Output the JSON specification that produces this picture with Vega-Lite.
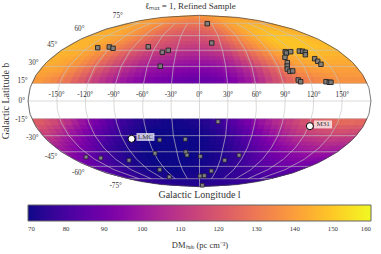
{"$schema":"https://vega.github.io/schema/vega-lite/v6.json","width":381,"height":244,"padding":{"top":10,"left":0,"right":0,"bottom":0},"autosize":"none","background":"white","view":{"stroke":null},
"title":{"text":"ℓₘₐₓ = 1, Refined Sample","font":"Liberation Serif","fontSize":9,"fontWeight":"normal","color":"#333","anchor":"middle","offset":-1},
"projection":{"type":"mollweide","scale":60.63,"translate":[199.5,91]},
"config":{"text":{"font":"Liberation Serif","color":"#333"}},
"datasets":{"cells":[
{"l":-180,"b":15,"v":139},{"l":-165,"b":15,"v":135},{"l":-150,"b":15,"v":129},{"l":-135,"b":15,"v":121},{"l":-120,"b":15,"v":113},{"l":-105,"b":15,"v":106},{"l":-90,"b":15,"v":100},{"l":-75,"b":15,"v":96},{"l":-60,"b":15,"v":93},{"l":-45,"b":15,"v":91},{"l":-30,"b":15,"v":89},{"l":-15,"b":15,"v":88},{"l":0,"b":15,"v":88},{"l":15,"b":15,"v":90},{"l":30,"b":15,"v":94},{"l":45,"b":15,"v":100},{"l":60,"b":15,"v":108},{"l":75,"b":15,"v":117},{"l":90,"b":15,"v":125},{"l":105,"b":15,"v":131},{"l":120,"b":15,"v":134},{"l":135,"b":15,"v":136},{"l":150,"b":15,"v":137},{"l":165,"b":15,"v":137},
{"l":-180,"b":22.5,"v":142},{"l":-165,"b":22.5,"v":140},{"l":-150,"b":22.5,"v":134},{"l":-135,"b":22.5,"v":127},{"l":-120,"b":22.5,"v":119},{"l":-105,"b":22.5,"v":112},{"l":-90,"b":22.5,"v":106},{"l":-75,"b":22.5,"v":101},{"l":-60,"b":22.5,"v":98},{"l":-45,"b":22.5,"v":96},{"l":-30,"b":22.5,"v":94},{"l":-15,"b":22.5,"v":93},{"l":0,"b":22.5,"v":93},{"l":15,"b":22.5,"v":95},{"l":30,"b":22.5,"v":99},{"l":45,"b":22.5,"v":105},{"l":60,"b":22.5,"v":113},{"l":75,"b":22.5,"v":122},{"l":90,"b":22.5,"v":130},{"l":105,"b":22.5,"v":136},{"l":120,"b":22.5,"v":139},{"l":135,"b":22.5,"v":140},{"l":150,"b":22.5,"v":140},{"l":165,"b":22.5,"v":140},
{"l":-180,"b":30,"v":144},{"l":-165,"b":30,"v":142},{"l":-150,"b":30,"v":138},{"l":-135,"b":30,"v":132},{"l":-120,"b":30,"v":125},{"l":-105,"b":30,"v":118},{"l":-90,"b":30,"v":112},{"l":-75,"b":30,"v":107},{"l":-60,"b":30,"v":104},{"l":-45,"b":30,"v":102},{"l":-30,"b":30,"v":100},{"l":-15,"b":30,"v":99},{"l":0,"b":30,"v":99},{"l":15,"b":30,"v":101},{"l":30,"b":30,"v":105},{"l":45,"b":30,"v":112},{"l":60,"b":30,"v":120},{"l":75,"b":30,"v":128},{"l":90,"b":30,"v":135},{"l":105,"b":30,"v":141},{"l":120,"b":30,"v":143},{"l":135,"b":30,"v":144},{"l":150,"b":30,"v":143},{"l":165,"b":30,"v":143},
{"l":-180,"b":37.5,"v":145},{"l":-165,"b":37.5,"v":144},{"l":-150,"b":37.5,"v":141},{"l":-135,"b":37.5,"v":136},{"l":-120,"b":37.5,"v":130},{"l":-105,"b":37.5,"v":124},{"l":-90,"b":37.5,"v":118},{"l":-75,"b":37.5,"v":113},{"l":-60,"b":37.5,"v":110},{"l":-45,"b":37.5,"v":108},{"l":-30,"b":37.5,"v":106},{"l":-15,"b":37.5,"v":105},{"l":0,"b":37.5,"v":106},{"l":15,"b":37.5,"v":108},{"l":30,"b":37.5,"v":112},{"l":45,"b":37.5,"v":119},{"l":60,"b":37.5,"v":127},{"l":75,"b":37.5,"v":134},{"l":90,"b":37.5,"v":140},{"l":105,"b":37.5,"v":145},{"l":120,"b":37.5,"v":147},{"l":135,"b":37.5,"v":147},{"l":150,"b":37.5,"v":146},{"l":165,"b":37.5,"v":145},
{"l":-180,"b":45,"v":146},{"l":-165,"b":45,"v":145},{"l":-150,"b":45,"v":143},{"l":-135,"b":45,"v":139},{"l":-120,"b":45,"v":134},{"l":-105,"b":45,"v":129},{"l":-90,"b":45,"v":124},{"l":-75,"b":45,"v":120},{"l":-60,"b":45,"v":117},{"l":-45,"b":45,"v":115},{"l":-30,"b":45,"v":113},{"l":-15,"b":45,"v":112},{"l":0,"b":45,"v":113},{"l":15,"b":45,"v":115},{"l":30,"b":45,"v":119},{"l":45,"b":45,"v":126},{"l":60,"b":45,"v":133},{"l":75,"b":45,"v":139},{"l":90,"b":45,"v":144},{"l":105,"b":45,"v":148},{"l":120,"b":45,"v":149},{"l":135,"b":45,"v":149},{"l":150,"b":45,"v":148},{"l":165,"b":45,"v":147},
{"l":-180,"b":52.5,"v":145},{"l":-165,"b":52.5,"v":145},{"l":-150,"b":52.5,"v":143},{"l":-135,"b":52.5,"v":141},{"l":-120,"b":52.5,"v":137},{"l":-105,"b":52.5,"v":133},{"l":-90,"b":52.5,"v":128},{"l":-75,"b":52.5,"v":124},{"l":-60,"b":52.5,"v":121},{"l":-45,"b":52.5,"v":119},{"l":-30,"b":52.5,"v":118},{"l":-15,"b":52.5,"v":117},{"l":0,"b":52.5,"v":118},{"l":15,"b":52.5,"v":121},{"l":30,"b":52.5,"v":125},{"l":45,"b":52.5,"v":131},{"l":60,"b":52.5,"v":137},{"l":75,"b":52.5,"v":142},{"l":90,"b":52.5,"v":146},{"l":105,"b":52.5,"v":149},{"l":120,"b":52.5,"v":149},{"l":135,"b":52.5,"v":149},{"l":150,"b":52.5,"v":148},{"l":165,"b":52.5,"v":146},
{"l":-180,"b":60,"v":144},{"l":-165,"b":60,"v":144},{"l":-150,"b":60,"v":143},{"l":-135,"b":60,"v":141},{"l":-120,"b":60,"v":138},{"l":-105,"b":60,"v":135},{"l":-90,"b":60,"v":131},{"l":-75,"b":60,"v":128},{"l":-60,"b":60,"v":125},{"l":-45,"b":60,"v":123},{"l":-30,"b":60,"v":122},{"l":-15,"b":60,"v":122},{"l":0,"b":60,"v":123},{"l":15,"b":60,"v":125},{"l":30,"b":60,"v":129},{"l":45,"b":60,"v":134},{"l":60,"b":60,"v":139},{"l":75,"b":60,"v":143},{"l":90,"b":60,"v":146},{"l":105,"b":60,"v":147},{"l":120,"b":60,"v":148},{"l":135,"b":60,"v":147},{"l":150,"b":60,"v":146},{"l":165,"b":60,"v":145},
{"l":-180,"b":67.5,"v":143},{"l":-165,"b":67.5,"v":143},{"l":-150,"b":67.5,"v":142},{"l":-135,"b":67.5,"v":140},{"l":-120,"b":67.5,"v":138},{"l":-105,"b":67.5,"v":136},{"l":-90,"b":67.5,"v":134},{"l":-75,"b":67.5,"v":131},{"l":-60,"b":67.5,"v":129},{"l":-45,"b":67.5,"v":128},{"l":-30,"b":67.5,"v":127},{"l":-15,"b":67.5,"v":127},{"l":0,"b":67.5,"v":128},{"l":15,"b":67.5,"v":130},{"l":30,"b":67.5,"v":133},{"l":45,"b":67.5,"v":137},{"l":60,"b":67.5,"v":140},{"l":75,"b":67.5,"v":143},{"l":90,"b":67.5,"v":145},{"l":105,"b":67.5,"v":146},{"l":120,"b":67.5,"v":146},{"l":135,"b":67.5,"v":145},{"l":150,"b":67.5,"v":144},{"l":165,"b":67.5,"v":143},
{"l":-180,"b":75,"v":141},{"l":-165,"b":75,"v":141},{"l":-150,"b":75,"v":140},{"l":-135,"b":75,"v":139},{"l":-120,"b":75,"v":138},{"l":-105,"b":75,"v":136},{"l":-90,"b":75,"v":135},{"l":-75,"b":75,"v":134},{"l":-60,"b":75,"v":133},{"l":-45,"b":75,"v":132},{"l":-30,"b":75,"v":132},{"l":-15,"b":75,"v":132},{"l":0,"b":75,"v":133},{"l":15,"b":75,"v":134},{"l":30,"b":75,"v":136},{"l":45,"b":75,"v":138},{"l":60,"b":75,"v":140},{"l":75,"b":75,"v":142},{"l":90,"b":75,"v":143},{"l":105,"b":75,"v":143},{"l":120,"b":75,"v":143},{"l":135,"b":75,"v":143},{"l":150,"b":75,"v":142},{"l":165,"b":75,"v":141},
{"l":-180,"b":82.5,"v":140},{"l":-165,"b":82.5,"v":140},{"l":-150,"b":82.5,"v":140},{"l":-135,"b":82.5,"v":139},{"l":-120,"b":82.5,"v":139},{"l":-105,"b":82.5,"v":138},{"l":-90,"b":82.5,"v":138},{"l":-75,"b":82.5,"v":137},{"l":-60,"b":82.5,"v":137},{"l":-45,"b":82.5,"v":137},{"l":-30,"b":82.5,"v":137},{"l":-15,"b":82.5,"v":137},{"l":0,"b":82.5,"v":137},{"l":15,"b":82.5,"v":138},{"l":30,"b":82.5,"v":138},{"l":45,"b":82.5,"v":139},{"l":60,"b":82.5,"v":140},{"l":75,"b":82.5,"v":140},{"l":90,"b":82.5,"v":140},{"l":105,"b":82.5,"v":141},{"l":120,"b":82.5,"v":141},{"l":135,"b":82.5,"v":141},{"l":150,"b":82.5,"v":140},{"l":165,"b":82.5,"v":140},
{"l":-180,"b":-22.5,"v":122},{"l":-165,"b":-22.5,"v":116},{"l":-150,"b":-22.5,"v":108},{"l":-135,"b":-22.5,"v":99},{"l":-120,"b":-22.5,"v":91},{"l":-105,"b":-22.5,"v":84},{"l":-90,"b":-22.5,"v":78},{"l":-75,"b":-22.5,"v":74},{"l":-60,"b":-22.5,"v":72},{"l":-45,"b":-22.5,"v":71},{"l":-30,"b":-22.5,"v":71},{"l":-15,"b":-22.5,"v":72},{"l":0,"b":-22.5,"v":74},{"l":15,"b":-22.5,"v":78},{"l":30,"b":-22.5,"v":84},{"l":45,"b":-22.5,"v":91},{"l":60,"b":-22.5,"v":99},{"l":75,"b":-22.5,"v":106},{"l":90,"b":-22.5,"v":112},{"l":105,"b":-22.5,"v":118},{"l":120,"b":-22.5,"v":122},{"l":135,"b":-22.5,"v":125},{"l":150,"b":-22.5,"v":126},{"l":165,"b":-22.5,"v":125},
{"l":-180,"b":-30,"v":115},{"l":-165,"b":-30,"v":108},{"l":-150,"b":-30,"v":100},{"l":-135,"b":-30,"v":93},{"l":-120,"b":-30,"v":86},{"l":-105,"b":-30,"v":80},{"l":-90,"b":-30,"v":75},{"l":-75,"b":-30,"v":72},{"l":-60,"b":-30,"v":70},{"l":-45,"b":-30,"v":70},{"l":-30,"b":-30,"v":70},{"l":-15,"b":-30,"v":71},{"l":0,"b":-30,"v":72},{"l":15,"b":-30,"v":75},{"l":30,"b":-30,"v":80},{"l":45,"b":-30,"v":86},{"l":60,"b":-30,"v":93},{"l":75,"b":-30,"v":100},{"l":90,"b":-30,"v":106},{"l":105,"b":-30,"v":112},{"l":120,"b":-30,"v":115},{"l":135,"b":-30,"v":117},{"l":150,"b":-30,"v":118},{"l":165,"b":-30,"v":117},
{"l":-180,"b":-37.5,"v":108},{"l":-165,"b":-37.5,"v":101},{"l":-150,"b":-37.5,"v":95},{"l":-135,"b":-37.5,"v":88},{"l":-120,"b":-37.5,"v":82},{"l":-105,"b":-37.5,"v":77},{"l":-90,"b":-37.5,"v":73},{"l":-75,"b":-37.5,"v":71},{"l":-60,"b":-37.5,"v":70},{"l":-45,"b":-37.5,"v":70},{"l":-30,"b":-37.5,"v":70},{"l":-15,"b":-37.5,"v":70},{"l":0,"b":-37.5,"v":71},{"l":15,"b":-37.5,"v":73},{"l":30,"b":-37.5,"v":77},{"l":45,"b":-37.5,"v":82},{"l":60,"b":-37.5,"v":88},{"l":75,"b":-37.5,"v":94},{"l":90,"b":-37.5,"v":100},{"l":105,"b":-37.5,"v":105},{"l":120,"b":-37.5,"v":108},{"l":135,"b":-37.5,"v":110},{"l":150,"b":-37.5,"v":111},{"l":165,"b":-37.5,"v":110},
{"l":-180,"b":-45,"v":101},{"l":-165,"b":-45,"v":95},{"l":-150,"b":-45,"v":90},{"l":-135,"b":-45,"v":84},{"l":-120,"b":-45,"v":78},{"l":-105,"b":-45,"v":74},{"l":-90,"b":-45,"v":72},{"l":-75,"b":-45,"v":70},{"l":-60,"b":-45,"v":70},{"l":-45,"b":-45,"v":70},{"l":-30,"b":-45,"v":70},{"l":-15,"b":-45,"v":70},{"l":0,"b":-45,"v":71},{"l":15,"b":-45,"v":72},{"l":30,"b":-45,"v":75},{"l":45,"b":-45,"v":79},{"l":60,"b":-45,"v":84},{"l":75,"b":-45,"v":89},{"l":90,"b":-45,"v":94},{"l":105,"b":-45,"v":98},{"l":120,"b":-45,"v":101},{"l":135,"b":-45,"v":103},{"l":150,"b":-45,"v":104},{"l":165,"b":-45,"v":103},
{"l":-180,"b":-52.5,"v":95},{"l":-165,"b":-52.5,"v":90},{"l":-150,"b":-52.5,"v":85},{"l":-135,"b":-52.5,"v":80},{"l":-120,"b":-52.5,"v":76},{"l":-105,"b":-52.5,"v":73},{"l":-90,"b":-52.5,"v":71},{"l":-75,"b":-52.5,"v":70},{"l":-60,"b":-52.5,"v":70},{"l":-45,"b":-52.5,"v":70},{"l":-30,"b":-52.5,"v":70},{"l":-15,"b":-52.5,"v":70},{"l":0,"b":-52.5,"v":71},{"l":15,"b":-52.5,"v":72},{"l":30,"b":-52.5,"v":74},{"l":45,"b":-52.5,"v":77},{"l":60,"b":-52.5,"v":81},{"l":75,"b":-52.5,"v":85},{"l":90,"b":-52.5,"v":89},{"l":105,"b":-52.5,"v":92},{"l":120,"b":-52.5,"v":95},{"l":135,"b":-52.5,"v":97},{"l":150,"b":-52.5,"v":98},{"l":165,"b":-52.5,"v":97},
{"l":-180,"b":-60,"v":90},{"l":-165,"b":-60,"v":86},{"l":-150,"b":-60,"v":81},{"l":-135,"b":-60,"v":78},{"l":-120,"b":-60,"v":74},{"l":-105,"b":-60,"v":72},{"l":-90,"b":-60,"v":71},{"l":-75,"b":-60,"v":70},{"l":-60,"b":-60,"v":70},{"l":-45,"b":-60,"v":70},{"l":-30,"b":-60,"v":70},{"l":-15,"b":-60,"v":71},{"l":0,"b":-60,"v":71},{"l":15,"b":-60,"v":72},{"l":30,"b":-60,"v":74},{"l":45,"b":-60,"v":76},{"l":60,"b":-60,"v":79},{"l":75,"b":-60,"v":82},{"l":90,"b":-60,"v":85},{"l":105,"b":-60,"v":87},{"l":120,"b":-60,"v":90},{"l":135,"b":-60,"v":91},{"l":150,"b":-60,"v":92},{"l":165,"b":-60,"v":91},
{"l":-180,"b":-67.5,"v":85},{"l":-165,"b":-67.5,"v":83},{"l":-150,"b":-67.5,"v":79},{"l":-135,"b":-67.5,"v":76},{"l":-120,"b":-67.5,"v":74},{"l":-105,"b":-67.5,"v":72},{"l":-90,"b":-67.5,"v":71},{"l":-75,"b":-67.5,"v":71},{"l":-60,"b":-67.5,"v":70},{"l":-45,"b":-67.5,"v":70},{"l":-30,"b":-67.5,"v":71},{"l":-15,"b":-67.5,"v":71},{"l":0,"b":-67.5,"v":72},{"l":15,"b":-67.5,"v":73},{"l":30,"b":-67.5,"v":74},{"l":45,"b":-67.5,"v":75},{"l":60,"b":-67.5,"v":77},{"l":75,"b":-67.5,"v":79},{"l":90,"b":-67.5,"v":81},{"l":105,"b":-67.5,"v":83},{"l":120,"b":-67.5,"v":85},{"l":135,"b":-67.5,"v":86},{"l":150,"b":-67.5,"v":86},{"l":165,"b":-67.5,"v":86},
{"l":-180,"b":-75,"v":81},{"l":-165,"b":-75,"v":79},{"l":-150,"b":-75,"v":77},{"l":-135,"b":-75,"v":75},{"l":-120,"b":-75,"v":74},{"l":-105,"b":-75,"v":73},{"l":-90,"b":-75,"v":72},{"l":-75,"b":-75,"v":72},{"l":-60,"b":-75,"v":71},{"l":-45,"b":-75,"v":71},{"l":-30,"b":-75,"v":72},{"l":-15,"b":-75,"v":72},{"l":0,"b":-75,"v":72},{"l":15,"b":-75,"v":73},{"l":30,"b":-75,"v":74},{"l":45,"b":-75,"v":75},{"l":60,"b":-75,"v":76},{"l":75,"b":-75,"v":77},{"l":90,"b":-75,"v":78},{"l":105,"b":-75,"v":79},{"l":120,"b":-75,"v":80},{"l":135,"b":-75,"v":81},{"l":150,"b":-75,"v":82},{"l":165,"b":-75,"v":82},
{"l":-180,"b":-82.5,"v":78},{"l":-165,"b":-82.5,"v":77},{"l":-150,"b":-82.5,"v":76},{"l":-135,"b":-82.5,"v":75},{"l":-120,"b":-82.5,"v":74},{"l":-105,"b":-82.5,"v":74},{"l":-90,"b":-82.5,"v":73},{"l":-75,"b":-82.5,"v":73},{"l":-60,"b":-82.5,"v":73},{"l":-45,"b":-82.5,"v":73},{"l":-30,"b":-82.5,"v":73},{"l":-15,"b":-82.5,"v":73},{"l":0,"b":-82.5,"v":73},{"l":15,"b":-82.5,"v":74},{"l":30,"b":-82.5,"v":74},{"l":45,"b":-82.5,"v":75},{"l":60,"b":-82.5,"v":75},{"l":75,"b":-82.5,"v":76},{"l":90,"b":-82.5,"v":76},{"l":105,"b":-82.5,"v":77},{"l":120,"b":-82.5,"v":77},{"l":135,"b":-82.5,"v":78},{"l":150,"b":-82.5,"v":78},{"l":165,"b":-82.5,"v":78},
{"l":-180,"b":-90,"v":75},{"l":-165,"b":-90,"v":75},{"l":-150,"b":-90,"v":75},{"l":-135,"b":-90,"v":75},{"l":-120,"b":-90,"v":75},{"l":-105,"b":-90,"v":75},{"l":-90,"b":-90,"v":74},{"l":-75,"b":-90,"v":74},{"l":-60,"b":-90,"v":74},{"l":-45,"b":-90,"v":74},{"l":-30,"b":-90,"v":74},{"l":-15,"b":-90,"v":74},{"l":0,"b":-90,"v":75},{"l":15,"b":-90,"v":75},{"l":30,"b":-90,"v":75},{"l":45,"b":-90,"v":75},{"l":60,"b":-90,"v":75},{"l":75,"b":-90,"v":75},{"l":90,"b":-90,"v":75},{"l":105,"b":-90,"v":75},{"l":120,"b":-90,"v":75},{"l":135,"b":-90,"v":75},{"l":150,"b":-90,"v":75},{"l":165,"b":-90,"v":75}
]},
"layer":[
{"data":{"name":"cells"},
"transform":[{"calculate":"{type:'Polygon',coordinates:[[[datum.l,datum.b],[datum.l,datum.b+7.5],[datum.l+15,datum.b+7.5],[datum.l+15,datum.b],[datum.l,datum.b]]]}","as":"cell"}],
"mark":{"type":"geoshape"},
"encoding":{"shape":{"field":"cell","type":"geojson"},
"color":{"field":"v","type":"quantitative","scale":{"scheme":"plasma","domain":[70,160]},
"legend":{"orient":"none","legendX":28,"legendY":195,"direction":"horizontal","gradientLength":343,"gradientThickness":16,"tickCount":10,"title":"DMₕₐₗₒ (pc cm⁻³)","titleOrient":"bottom","titleAnchor":"middle","titleFont":"Liberation Serif","titleFontSize":8.5,"titleFontWeight":"normal","titleColor":"#333","titlePadding":8,"labelFont":"Liberation Serif","labelFontSize":6.8,"labelColor":"#333","labelOverlap":false,"labelOffset":5,"gradientStrokeColor":"#666","gradientStrokeWidth":1}}}},
{"data":{"name":"cells"},
"transform":[{"calculate":"{type:'Polygon',coordinates:[[[clamp(datum.l-3.75,-180,180),datum.b>0?clamp(datum.b-1.875,15,90):clamp(datum.b-1.875,-90,-15)],[clamp(datum.l-3.75,-180,180),datum.b>0?clamp(datum.b+5.625,15,90):clamp(datum.b+5.625,-90,-15)],[clamp(datum.l+11.25,-180,180),datum.b>0?clamp(datum.b+5.625,15,90):clamp(datum.b+5.625,-90,-15)],[clamp(datum.l+11.25,-180,180),datum.b>0?clamp(datum.b-1.875,15,90):clamp(datum.b-1.875,-90,-15)],[clamp(datum.l-3.75,-180,180),datum.b>0?clamp(datum.b-1.875,15,90):clamp(datum.b-1.875,-90,-15)]]]}","as":"cell"}],
"mark":{"type":"geoshape"},
"encoding":{"shape":{"field":"cell","type":"geojson"},"color":{"field":"v","type":"quantitative","scale":{"scheme":"plasma","domain":[70,160]},"legend":null}}},
{"data":{"name":"cells"},
"transform":[{"calculate":"{type:'Polygon',coordinates:[[[clamp(datum.l+3.75,-180,180),datum.b>0?clamp(datum.b+1.875,15,90):clamp(datum.b+1.875,-90,-15)],[clamp(datum.l+3.75,-180,180),datum.b>0?clamp(datum.b+9.375,15,90):clamp(datum.b+9.375,-90,-15)],[clamp(datum.l+18.75,-180,180),datum.b>0?clamp(datum.b+9.375,15,90):clamp(datum.b+9.375,-90,-15)],[clamp(datum.l+18.75,-180,180),datum.b>0?clamp(datum.b+1.875,15,90):clamp(datum.b+1.875,-90,-15)],[clamp(datum.l+3.75,-180,180),datum.b>0?clamp(datum.b+1.875,15,90):clamp(datum.b+1.875,-90,-15)]]]}","as":"cell"}],
"mark":{"type":"geoshape","opacity":0.5},
"encoding":{"shape":{"field":"cell","type":"geojson"},"color":{"field":"v","type":"quantitative","scale":{"scheme":"plasma","domain":[70,160]},"legend":null}}},
{"data":{"name":"cells"},
"transform":[{"calculate":"{type:'Polygon',coordinates:[[[clamp(datum.l-3.75,-180,180),datum.b>0?clamp(datum.b+1.875,15,90):clamp(datum.b+1.875,-90,-15)],[clamp(datum.l-3.75,-180,180),datum.b>0?clamp(datum.b+9.375,15,90):clamp(datum.b+9.375,-90,-15)],[clamp(datum.l+11.25,-180,180),datum.b>0?clamp(datum.b+9.375,15,90):clamp(datum.b+9.375,-90,-15)],[clamp(datum.l+11.25,-180,180),datum.b>0?clamp(datum.b+1.875,15,90):clamp(datum.b+1.875,-90,-15)],[clamp(datum.l-3.75,-180,180),datum.b>0?clamp(datum.b+1.875,15,90):clamp(datum.b+1.875,-90,-15)]]]}","as":"cell"}],
"mark":{"type":"geoshape","opacity":0.333},
"encoding":{"shape":{"field":"cell","type":"geojson"},"color":{"field":"v","type":"quantitative","scale":{"scheme":"plasma","domain":[70,160]},"legend":null}}},
{"data":{"name":"cells"},
"transform":[{"calculate":"{type:'Polygon',coordinates:[[[clamp(datum.l+3.75,-180,180),datum.b>0?clamp(datum.b-1.875,15,90):clamp(datum.b-1.875,-90,-15)],[clamp(datum.l+3.75,-180,180),datum.b>0?clamp(datum.b+5.625,15,90):clamp(datum.b+5.625,-90,-15)],[clamp(datum.l+18.75,-180,180),datum.b>0?clamp(datum.b+5.625,15,90):clamp(datum.b+5.625,-90,-15)],[clamp(datum.l+18.75,-180,180),datum.b>0?clamp(datum.b-1.875,15,90):clamp(datum.b-1.875,-90,-15)],[clamp(datum.l+3.75,-180,180),datum.b>0?clamp(datum.b-1.875,15,90):clamp(datum.b-1.875,-90,-15)]]]}","as":"cell"}],
"mark":{"type":"geoshape","opacity":0.25},
"encoding":{"shape":{"field":"cell","type":"geojson"},"color":{"field":"v","type":"quantitative","scale":{"scheme":"plasma","domain":[70,160]},"legend":null}}},
{"data":{"graticule":{"stepMinor":[30,15],"stepMajor":[360,360],"extentMinor":[[-180,-75.001],[180,75.001]],"extentMajor":[[-180,-90],[180,90]]}},"mark":{"type":"geoshape","filled":false,"stroke":"#c4c4c4","strokeWidth":0.8,"strokeOpacity":0.8},"encoding":{}},
{"data":{"sphere":true},"mark":{"type":"geoshape","filled":false,"stroke":"#444","strokeWidth":0.7},"encoding":{}},
{"data":{"values":[{"l":-136.4,"b":47.5},{"l":-121.9,"b":48.2},{"l":-115.1,"b":46.9},{"l":-69.4,"b":48.4},{"l":-47.4,"b":43},{"l":-40.6,"b":44.9},{"l":-45,"b":30.1},{"l":18.9,"b":74.5},{"l":17.4,"b":52.2},{"l":110,"b":43.6},{"l":110,"b":42.3},{"l":117,"b":43.6},{"l":104.3,"b":38.3},{"l":129,"b":44.2},{"l":132.9,"b":44},{"l":134.9,"b":43},{"l":132,"b":40.7},{"l":139,"b":37},{"l":140,"b":34.6},{"l":141.1,"b":31.9},{"l":103,"b":33.3},{"l":100.9,"b":30.3},{"l":99.3,"b":27.6},{"l":101.2,"b":25.6},{"l":104.4,"b":25.9},{"l":106.9,"b":18},{"l":109,"b":16.5},{"l":136.3,"b":16.5},{"l":139.6,"b":16},{"l":141.4,"b":16}]},
"mark":{"type":"point","shape":"square","filled":true,"size":20,"fill":"#7d7d7d","fillOpacity":0.9,"stroke":"#222","strokeWidth":0.9,"opacity":1},"encoding":{"longitude":{"field":"l","type":"quantitative"},"latitude":{"field":"b","type":"quantitative"}}},
{"data":{"values":[{"l":-46.9,"b":-33.9},{"l":-16.7,"b":-33.3},{"l":-58.9,"b":-46.5},{"l":-18,"b":-45.2},{"l":-16.9,"b":-48.2},{"l":-102.4,"b":-53.5},{"l":-138.8,"b":-51.2},{"l":-157.3,"b":-50.2},{"l":-69.8,"b":-63.8},{"l":-68.5,"b":-72.7},{"l":20,"b":-17.7},{"l":1.1,"b":-49.5},{"l":36.6,"b":-53.5},{"l":53.6,"b":-48.4},{"l":21.4,"b":-65.2},{"l":10.3,"b":-71},{"l":1.1,"b":-71.4},{"l":16,"b":-85.8}]},
"mark":{"type":"point","shape":"square","filled":true,"size":14,"fill":"#8a8a8a","fillOpacity":0.95,"stroke":"#222","strokeWidth":0.7,"opacity":1},"encoding":{"longitude":{"field":"l","type":"quantitative"},"latitude":{"field":"b","type":"quantitative"}}},
{"data":{"values":[{"name":"LMC","l":-79.5,"b":-32.9},{"name":"M31","l":121.2,"b":-21.6}]},
"mark":{"type":"point","shape":"circle","filled":true,"size":50,"fill":"white","stroke":"black","strokeWidth":1,"opacity":1},"encoding":{"longitude":{"field":"l","type":"quantitative"},"latitude":{"field":"b","type":"quantitative"}}},
{"data":{"values":[{"name":"LMC","l":-62.5,"b":-31.2},{"name":"M31","l":134.8,"b":-20.1}]},
"layer":[
{"mark":{"type":"point","shape":"M-1,-0.44H1V0.44H-1Z","filled":true,"size":324,"fill":"white","fillOpacity":0.72,"strokeWidth":0,"opacity":1},"encoding":{"longitude":{"field":"l","type":"quantitative"},"latitude":{"field":"b","type":"quantitative"}}},
{"mark":{"type":"text","fontSize":7,"align":"center","baseline":"middle"},"encoding":{"longitude":{"field":"l","type":"quantitative"},"latitude":{"field":"b","type":"quantitative"},"text":{"field":"name"}}}
]},
{"data":{"values":[{"l":-150,"b":0,"t":"-150°"},{"l":-120,"b":0,"t":"-120°"},{"l":-90,"b":0,"t":"-90°"},{"l":-60,"b":0,"t":"-60°"},{"l":-30,"b":0,"t":"-30°"},{"l":0,"b":0,"t":"0°"},{"l":30,"b":0,"t":"30°"},{"l":60,"b":0,"t":"60°"},{"l":90,"b":0,"t":"90°"},{"l":120,"b":0,"t":"120°"},{"l":150,"b":0,"t":"150°"}]},
"mark":{"type":"text","fontSize":7.2,"align":"center","baseline":"middle","dy":-6},"encoding":{"longitude":{"field":"l","type":"quantitative"},"latitude":{"field":"b","type":"quantitative"},"text":{"field":"t"}}},
{"encoding":{"longitude":{"field":"l","type":"quantitative"},"latitude":{"field":"b","type":"quantitative"},"text":{"field":"t"}},
"layer":[
{"data":{"values":[{"l":-180,"b":75,"t":"75°"}]},"mark":{"type":"text","fontSize":7.2,"align":"right","baseline":"middle","dx":-4,"dy":-7.7}},
{"data":{"values":[{"l":-180,"b":60,"t":"60°"}]},"mark":{"type":"text","fontSize":7.2,"align":"right","baseline":"middle","dx":-4,"dy":-6.7}},
{"data":{"values":[{"l":-180,"b":45,"t":"45°"}]},"mark":{"type":"text","fontSize":7.2,"align":"right","baseline":"middle","dx":-4,"dy":-5}},
{"data":{"values":[{"l":-180,"b":30,"t":"30°"}]},"mark":{"type":"text","fontSize":7.2,"align":"right","baseline":"middle","dx":-4,"dy":-3.4}},
{"data":{"values":[{"l":-180,"b":15,"t":"15°"}]},"mark":{"type":"text","fontSize":7.2,"align":"right","baseline":"middle","dx":-4,"dy":-2}},
{"data":{"values":[{"l":-180,"b":0,"t":"0°"}]},"mark":{"type":"text","fontSize":7.2,"align":"right","baseline":"middle","dx":-3,"dy":0}},
{"data":{"values":[{"l":-180,"b":-15,"t":"-15°"}]},"mark":{"type":"text","fontSize":7.2,"align":"right","baseline":"middle","dx":-4,"dy":1.5}},
{"data":{"values":[{"l":-180,"b":-30,"t":"-30°"}]},"mark":{"type":"text","fontSize":7.2,"align":"right","baseline":"middle","dx":-4,"dy":2.7}},
{"data":{"values":[{"l":-180,"b":-45,"t":"-45°"}]},"mark":{"type":"text","fontSize":7.2,"align":"right","baseline":"middle","dx":-4,"dy":5}},
{"data":{"values":[{"l":-180,"b":-60,"t":"-60°"}]},"mark":{"type":"text","fontSize":7.2,"align":"right","baseline":"middle","dx":-4,"dy":6.7}},
{"data":{"values":[{"l":-180,"b":-75,"t":"-75°"}]},"mark":{"type":"text","fontSize":7.2,"align":"right","baseline":"middle","dx":-5,"dy":7}},
{"data":{"values":[{"l":0,"b":-90,"t":"Galactic Longitude l"}]},"mark":{"type":"text","fontSize":10,"align":"center","baseline":"middle","dy":8}},
{"data":{"values":[{"l":-180,"b":0,"t":"Galactic Latitude b"}]},"mark":{"type":"text","fontSize":10,"align":"center","baseline":"middle","angle":270,"dy":-22}}
]}
]}
